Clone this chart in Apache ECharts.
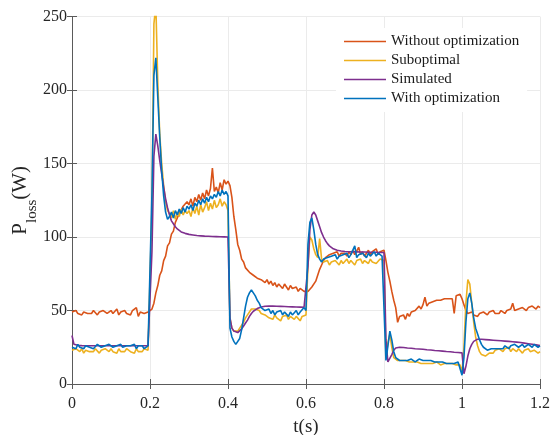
<!DOCTYPE html>
<html>
<head>
<meta charset="utf-8">
<script src="https://cdn.jsdelivr.net/npm/echarts@6/dist/echarts.min.js"></script>
<style>
  html, body { margin: 0; padding: 0; background: #fff; }
  #chart { width: 552px; height: 435px; }
</style>
</head>
<body>
<div id="chart"></div>
<script>
'use strict';

// sample spacing of the traces (s)
const dt = 0.005;

const seriesNames = ['Without optimization', 'Suboptimal', 'Simulated', 'With optimization'];
const xTicks = [0, 0.2, 0.4, 0.6, 0.8, 1, 1.2];
const yTicks = [0, 50, 100, 150, 200, 250];

// Without optimization, every 5 ms
const withoutOpt = [
    49,48,50,48,49,47,49,50,48,49, 48,50,49,47,49,48,50,49,48,49,
    50,48,49,51,47,49,48,50,48,49, 47,50,49,52,46,49,50,48,49,49,
    49,51,55,62,67,74,77,84,87,94,96,102,104,110,111,116,117,121,120,124,
    122,126,121,127,124,129,125,130,126,132,128,133,147,131,134,130,137,132,139,136,
    138,135,127,114,105,95,91,85,83,79,79,76,77,74,75,72,73,71,72,69,
    71,68,70,67,69,66,68,67,65,68,66,64,67,65,64,66,63,65,64,63,
    64,63,64,66,67,70,74,78,81,84,86,87,88,87,89,88,90,87,89,88,
    89,87,90,88,91,88,89,93,88,90,87,89,91,88,90,89,92,88,90,89,
    91,84,76,70,63,57,52,42,46,45,47,44,48,46,49,48,50,51,53,51,
    54,59,53,55,54,56,55,57,56,57,56,58,57,58,59,58,48,60,59,61,
    58,54,50,48,47,49,47,48,46,48,47,49,48,47,49,48,50,48,49,48,
    50,49,48,50,49,51,55,50,49,51,50,52,51,50,52,51,53,52,51,53,52
];

// Suboptimal
const subopt = [
    23,22,24,23,22,24,21,23,24,22, 23,22,24,23,21,23,22,24,23,22,
    24,22,23,21,24,22,23,22,24,23, 22,23,21,24,22,23,22,24,23,23,
    24,120,245,258,205,170,150,135,124,118,116,113,118,112,117,114,119,115,118,116,
    118,114,120,116,121,115,122,117,120,124,118,123,119,125,120,122,126,121,124,122,
    118,45,38,36,35,36,38,40,42,45,47,49,51,52,51,50,50,48,49,47,
    47,45,46,44,47,45,46,43,46,45,47,44,46,45,44,46,45,43,46,45,
    47,80,100,98,92,88,86,99,85,83,82,84,81,83,82,84,83,81,84,82,
    83,85,82,84,83,81,84,83,85,82,84,83,82,85,83,84,82,83,85,84,
    84,18,28,34,25,18,17,16,17,16,17,16,16,15,16,15,16,15,15,14,
    15,14,15,14,15,14,14,15,14,13,14,14,13,14,13,14,13,13,14,13,
    8,25,55,71,68,55,42,32,26,22,20,19,19,20,21,22,21,23,22,24,
    23,22,24,23,25,22,24,23,22,24,23,21,23,22,24,22,21,23,22,21,22
];

// Simulated (smooth)
const simulated = [
    33,27,26.5,26.3,26.2,26.1,26,26,26,26, 26,26,26,26,26,26,26,26,26,26,
    26,26,26,26,26,26,26,26,26,26, 26,26,26,26,26,26,26,26,26,26,
    26,90,155,170,162,152,143,134,126,120,115,111,109,107,105.5,104.5,103.5,103,102.5,102,
    101.8,101.6,101.4,101.2,101,100.9,100.8,100.7,100.6,100.5,100.5,100.4,100.4,100.3,100.3,100.2,100.2,100.1,100.1,100,
    100,45,38,36,35,35,36,37.5,39.5,41.5,43.5,46,48,49.5,50.5,51.3,52,52.4,52.7,52.9,
    53,53,53,53,52.9,52.9,52.8,52.8,52.7,52.7,52.6,52.6,52.5,52.5,52.4,52.4,52.3,52.3,52.2,52.2,
    52,80,105,115,117,115,111,107,103,100,97.5,95.5,94,93,92,91.5,91,90.7,90.5,90.3,
    90.2,90.1,90,90,90,89.9,89.9,89.9,89.8,89.8,89.8,89.7,89.7,89.7,89.6,89.6,89.6,89.5,89.5,89.5,
    89.5,30,15,16,20,23,24.5,25,25,24.9,24.8,24.7,24.5,24.4,24.3,24.2,24,23.9,23.8,23.7,
    23.6,23.4,23.3,23.2,23.1,23,22.8,22.7,22.6,22.5,22.4,22.2,22.1,22,21.9,21.8,21.6,21.5,21.4,21.3,
    21.2,7,12,19,24,27,29,30,30.5,30.5,30.4,30.3,30.2,30.1,30,29.9,29.8,29.7,29.6,29.5,
    29.4,29.3,29.2,29.1,29,28.9,28.8,28.6,28.5,28.3,28.2,28,27.8,27.6,27.4,27.2,27,26.8,26.6,26.4,26.2
];

// With optimization
const withOpt = [
    25,26,24,27,25,26,24,26,27,25, 26,24,25,27,26,25,24,26,25,27,
    26,25,24,26,25,27,25,24,26,25, 26,25,27,24,26,25,26,24,25,26,
    26,130,210,222,195,168,145,128,117,112,114,117,113,118,115,119,116,120,117,121,
    119,122,118,123,121,125,122,126,123,127,124,128,126,129,127,131,128,132,129,131,
    128,38,32,29,27,28,31,37,45,53,59,62,64,62,60,57,55,52,51,50,
    49,51,48,50,47,49,48,50,47,49,48,46,49,47,48,50,47,49,48,52,
    50,95,110,113,105,95,88,85,83,85,84,86,85,87,86,88,85,87,86,88,
    87,89,86,88,87,94,86,88,87,89,88,86,89,87,88,90,87,89,88,87,
    88,16,26,36,30,22,18,17,16,17,16,17,16,16,17,16,15,16,17,16,
    16,15,16,15,16,15,15,16,15,14,15,15,14,15,14,15,14,14,15,14,
    6,18,42,58,62,55,45,38,34,30,27,25,24,23,23,24,23,24,25,24,
    25,24,26,25,24,26,25,27,26,25,26,27,25,26,27,26,25,27,26,25,26
];

const colors = ['#D95319', '#EDB120', '#7E2F8E', '#0072BD'];
const font = "'Liberation Serif', 'Times New Roman', serif";

const toPairs = vals => vals.map((v, i) => [+(i * dt).toFixed(3), v]);

const chart = echarts.init(document.getElementById('chart'), null, { renderer: 'canvas' });

const boxAxis = {
    axisLine: { show: true, lineStyle: { color: '#5a5a5a', width: 1 } },
    axisTick: { show: true, inside: true, length: 5, lineStyle: { color: '#5a5a5a' } },
    axisLabel: { show: false },
    splitLine: { show: false }
};

let option = {
    animation: false,
    color: colors,
    grid: { left: 72, right: 12, top: 16.6, bottom: 51, outerBoundsMode: 'none' },
    legend: {
        data: seriesNames,
        orient: 'vertical',
        left: 336,
        top: 28,
        padding: [5, 8, 5, 8],
        backgroundColor: '#fff',
        icon: 'path://M0,0 L42,0 L42,1.6 L0,1.6 Z',
        itemWidth: 42,
        itemHeight: 1.6,
        itemGap: 2,
        textStyle: { fontFamily: font, fontSize: 15, color: '#1a1a1a', lineHeight: 17 }
    },
    xAxis: [
        {
            type: 'value',
            min: xTicks[0],
            max: xTicks[xTicks.length - 1],
            interval: 0.2,
            name: 't(s)',
            nameLocation: 'middle',
            nameGap: 34,
            nameMoveOverlap: false,
            nameTextStyle: { fontFamily: font, fontSize: 19, color: '#262626' },
            axisLine: { lineStyle: { color: '#5a5a5a', width: 1 } },
            axisTick: { inside: true, length: 5, lineStyle: { color: '#5a5a5a' } },
            axisLabel: {
                fontFamily: font, fontSize: 16, color: '#262626', margin: 12,
                formatter: v => String(+v.toFixed(1))
            },
            splitLine: { show: true, lineStyle: { color: '#ebebeb', width: 1 } }
        },
        Object.assign({
            type: 'value', position: 'top',
            min: xTicks[0], max: xTicks[xTicks.length - 1], interval: 0.2
        }, boxAxis)
    ],
    yAxis: [
        {
            type: 'value',
            min: yTicks[0],
            max: yTicks[yTicks.length - 1],
            interval: 50,
            name: '{a|P}{b|loss}{a|(W)}',
            nameLocation: 'middle',
            nameGap: 37,
            nameMoveOverlap: false,
            nameTextStyle: {
                fontFamily: font, color: '#262626',
                rich: {
                    a: { fontFamily: font, fontSize: 21, color: '#262626', lineHeight: 25, verticalAlign: 'top' },
                    b: { fontFamily: font, fontSize: 15, color: '#262626', lineHeight: 15, verticalAlign: 'top', padding: [15, 0, 0, 0] }
                }
            },
            axisLine: { show: true, lineStyle: { color: '#5a5a5a', width: 1 } },
            axisTick: { show: true, inside: true, length: 5, lineStyle: { color: '#5a5a5a' } },
            axisLabel: { fontFamily: font, fontSize: 16, color: '#262626', margin: 5 },
            splitLine: { show: true, lineStyle: { color: '#ebebeb', width: 1 } }
        },
        Object.assign({
            type: 'value', position: 'right',
            min: yTicks[0], max: yTicks[yTicks.length - 1], interval: 50
        }, boxAxis)
    ],
    series: [withoutOpt, subopt, simulated, withOpt].map((vals, k) => ({
        name: seriesNames[k],
        type: 'line',
        data: toPairs(vals),
        showSymbol: false,
        symbol: 'none',
        lineStyle: { width: 1.6, color: colors[k] },
        itemStyle: { color: colors[k] }
    }))
};

chart.setOption(option);
</script>
</body>
</html>
